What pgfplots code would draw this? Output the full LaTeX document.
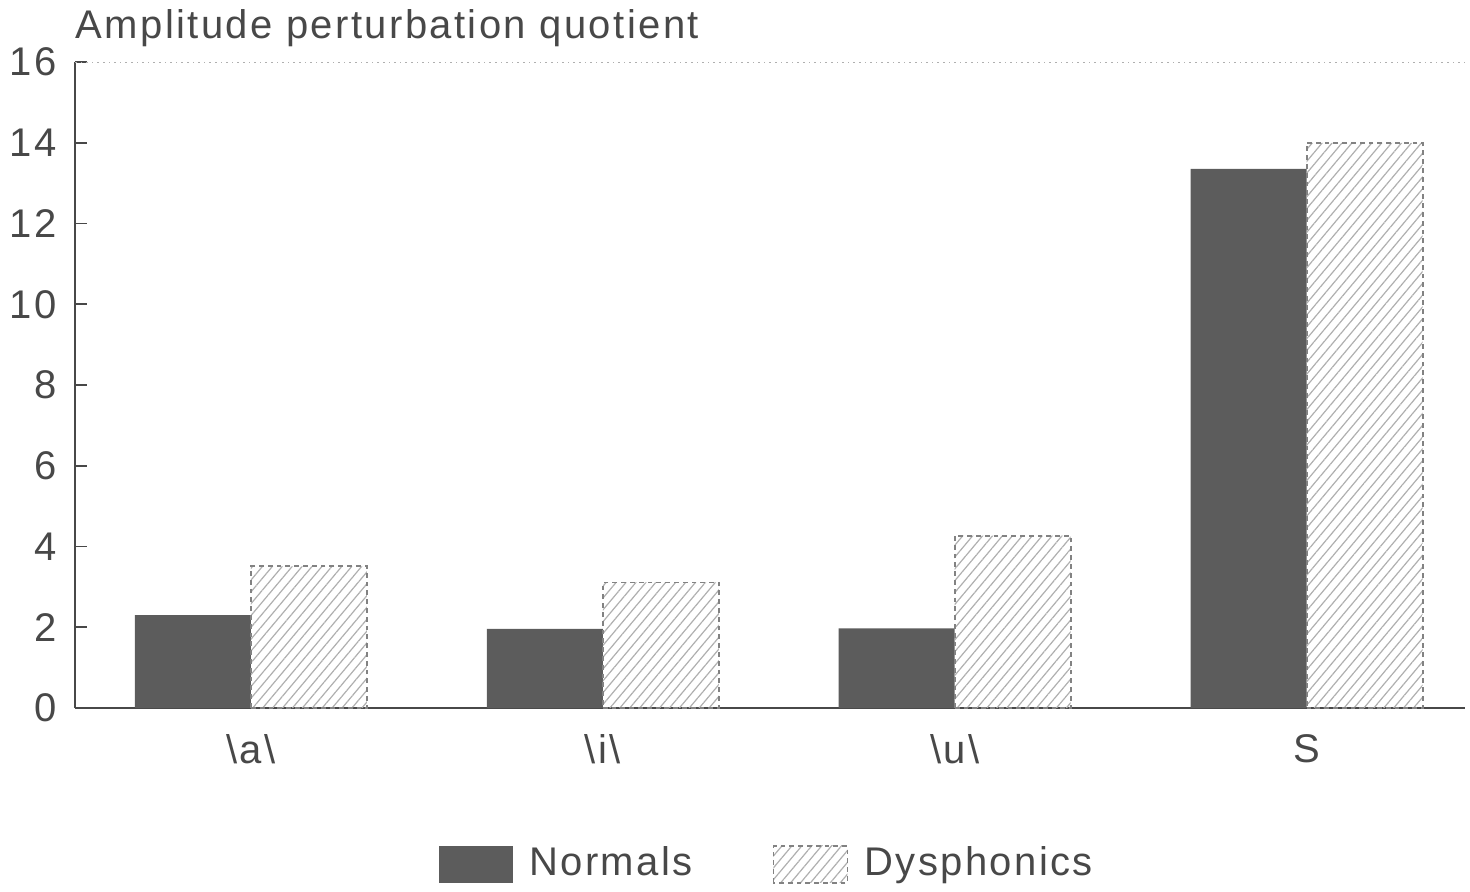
\documentclass[border=0pt]{standalone}
\usepackage{fontspec}
\setmainfont[LetterSpace=6]{Liberation Sans}
\usepackage{pgfplots}
\pgfplotsset{compat=1.18}
\usetikzlibrary{patterns.meta}
\definecolor{ink}{RGB}{72,72,72}
\definecolor{darkbar}{RGB}{92,92,92}
\definecolor{hatch}{RGB}{175,175,175}
\definecolor{frame}{RGB}{130,130,130}
\tikzset{
  dysph/.style={draw=frame, dash pattern=on 1.2pt off 1pt, line width=0.45pt,
    preaction={solid, draw=none, pattern={Lines[angle=50, distance=1.9pt, line width=0.3pt]}, pattern color=hatch}},
}
\begin{document}
\begin{tikzpicture}
\useasboundingbox (0,0) rectangle (367.5pt,222.75pt);
\begin{axis}[
  at={(18.75pt,45.75pt)}, anchor=south west,
  scale only axis, width=347.5pt, height=161.5pt,
  ybar=0pt, bar width=29pt,
  xmin=-0.5, xmax=3.45, ymin=0, ymax=16,
  ytick={0,2,...,16},
  xtick={0,1,2,3}, xticklabels={{\textbackslash a\textbackslash},{\textbackslash i\textbackslash},{\textbackslash u\textbackslash},S},
  axis x line*=bottom, axis y line*=left,
  axis line style={draw=ink, line width=0.4pt, -},
  x tick style={draw=none},
  y tick style={draw=ink, line width=0.4pt},
  tick align=inside, major tick length=3pt,
  tick label style={font=\fontsize{10}{12}\selectfont, text=ink},
  /pgf/number format/assume math mode=true,
  yticklabel style={xshift=-1pt},
  xticklabel style={yshift=-3pt},
  legend style={at={(0.5,-0.242)}, anchor=center, draw=none, fill=none,
    font=\fontsize{10}{12}\selectfont, text=ink, /tikz/every even column/.append style={column sep=18pt}},
  legend columns=2,
  legend image code/.code={\path[#1] (0pt,-4.6pt) rectangle (18.5pt,4.6pt); \path (20.5pt,0pt);},
  legend cell align=left,
]
\addplot[fill=darkbar, draw=none] coordinates {(0,2.30) (1,1.96) (2,1.97) (3,13.35)};
\addlegendentry{Normals}
\addplot[dysph] coordinates {(0,3.51) (1,3.11) (2,4.27) (3,14.0)};
\addlegendentry{Dysphonics}
\draw[densely dotted, draw=hatch, line width=0.4pt] (rel axis cs:0,1) -- (rel axis cs:1,1);
\end{axis}
\node[anchor=base west, text=ink, font=\fontsize{10}{12}\selectfont, inner sep=0pt]
  at (18.75pt,213pt) {Amplitude perturbation quotient};
\end{tikzpicture}
\end{document}
